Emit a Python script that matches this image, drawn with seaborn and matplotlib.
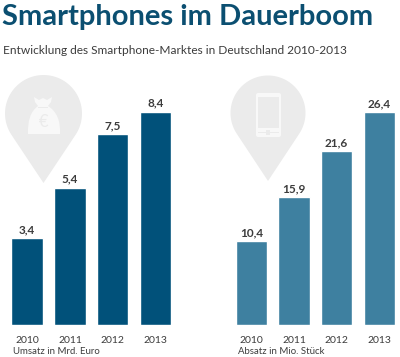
"""
Smartphones im Dauerboom: Umsatz und Absatz 2010-2013.
"""

import numpy as np
import pandas as pd
import matplotlib
matplotlib.use("Agg")
import matplotlib.pyplot as plt
from matplotlib.patches import FancyBboxPatch, PathPatch, Polygon, Rectangle
from matplotlib.path import Path
import seaborn as sns

YEARS = ["2010", "2011", "2012", "2013"]
UMSATZ = [3.4, 5.4, 7.5, 8.4]
ABSATZ = [10.4, 15.9, 21.6, 26.4]

DARK = "#01517a"
LIGHT = "#3e80a0"
PIN = "#ebebeb"
ICON = "#f8f8f8"
TEXT = "#3c3c3c"
W, H = 400, 357
FONT = "Lato"


def pin(bg, cx, cy, r, tip):
    # Tropfenform aus Kreis und Spitze
    a = np.arccos(r / (tip - cy))
    ang = np.linspace(np.pi / 2 + a, 2 * np.pi + np.pi / 2 - a, 80)
    pts = np.column_stack([cx + r * np.cos(ang), cy + r * np.sin(ang)])
    bg.add_patch(Polygon(np.vstack([pts, [cx, tip]]), fc=PIN, ec="none"))


def money_bag(bg):
    verts = [(34, 97), (39, 100), (43, 98), (47, 100), (52, 97),
             (51, 102), (48, 106),
             (61, 114), (60, 134),
             (44, 134), (28, 134),
             (27, 114), (38, 106),
             (35, 102), (34, 97), (34, 97)]
    codes = [Path.MOVETO, Path.LINETO, Path.LINETO, Path.LINETO, Path.LINETO,
             Path.LINETO, Path.LINETO,
             Path.CURVE3, Path.CURVE3,
             Path.LINETO, Path.LINETO,
             Path.CURVE3, Path.CURVE3,
             Path.LINETO, Path.LINETO, Path.CLOSEPOLY]
    bg.add_patch(PathPatch(Path(verts, codes), fc=ICON, ec="none"))
    bg.add_patch(Rectangle((38, 106.5), 10, 1.2, fc=PIN, ec="none"))
    bg.text(43.5, 122, "€", fontsize=12, color=PIN, ha="center", va="center", family=FONT)


def phone(bg):
    bg.add_patch(FancyBboxPatch((256, 93), 25, 44, boxstyle="round,pad=0,rounding_size=2", fc=ICON, ec="none"))
    bg.add_patch(Rectangle((258, 97), 20.5, 31, fc=PIN, ec="none"))
    bg.add_patch(Rectangle((258, 132), 20.5, 0.8, fc=PIN, ec="none"))
    bg.add_patch(Rectangle((266, 130), 4, 4.5, fc=PIN, ec="none"))


def bars(fig, x0, x1, values, color, ppu):
    # Achse in Pixelkoordinaten platzieren, Basislinie bei y=324.5
    top = 100
    ax = fig.add_axes([x0 / W, (H - 324.5) / H, (x1 - x0) / W, (324.5 - top) / H])
    ax.patch.set_alpha(0)
    df = pd.DataFrame({"Jahr": YEARS, "Wert": values})
    sns.barplot(data=df, x="Jahr", y="Wert", color=color, saturation=1, width=0.735, ax=ax)
    ax.set_xlim(-0.5, 3.5)
    ax.set_ylim(0, (324.5 - top) / ppu)
    ax.bar_label(ax.containers[0], labels=[f"{v:.1f}".replace(".", ",") for v in values],
                 padding=2, fontsize=8.5, fontweight="bold", color=TEXT, family=FONT)
    ax.set_xlabel("")
    ax.set_ylabel("")
    ax.set_yticks([])
    ax.tick_params(axis="x", length=0, pad=8, labelsize=7.5, labelcolor=TEXT)
    for s in ax.spines.values():
        s.set_visible(False)
    return ax


def main():
    sns.set_theme(style="white")
    plt.rcParams["font.family"] = [FONT, "DejaVu Sans"]

    fig = plt.figure(figsize=(W / 100, H / 100), dpi=100, facecolor="white")
    bg = fig.add_axes([0, 0, 1, 1])
    bg.set_xlim(0, W)
    bg.set_ylim(H, 0)
    bg.axis("off")

    pin(bg, 43.5, 113.5, 38.5, 183)
    pin(bg, 268, 113, 37.5, 181)
    money_bag(bg)
    phone(bg)

    bars(fig, 5.8, 176.8, UMSATZ, DARK, 25.35)
    bars(fig, 230, 400.6, ABSATZ, LIGHT, 8.04)

    fig.text(2 / W, 1 - 24.5 / H, "Smartphones im Dauerboom", fontsize=21, fontweight="bold",
             color="#0b4f71", va="baseline", ha="left")
    fig.text(3 / W, 1 - 53.5 / H, "Entwicklung des Smartphone-Marktes in Deutschland 2010-2013",
             fontsize=8.6, color=TEXT, va="baseline", ha="left")
    fig.text(13 / W, 1 - 354 / H, "Umsatz in Mrd. Euro", fontsize=6.9, color=TEXT, va="baseline")
    fig.text(238 / W, 1 - 354 / H, "Absatz in Mio. Stück", fontsize=6.9, color=TEXT, va="baseline")

    fig.savefig("out.png", dpi=100)
    plt.close(fig)


if __name__ == "__main__":
    main()
